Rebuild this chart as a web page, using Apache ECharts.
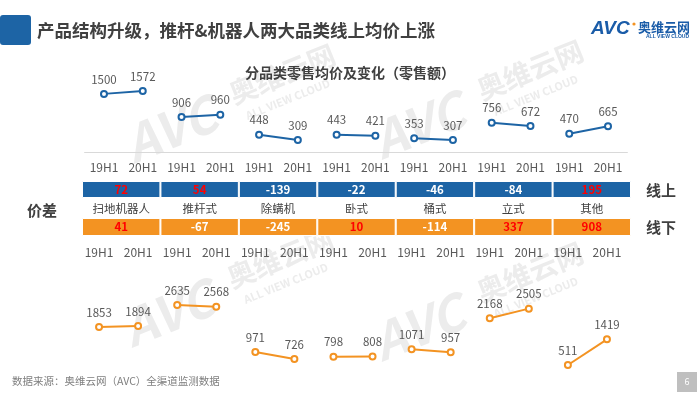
<!DOCTYPE html>
<html>
<head>
<meta charset="utf-8">
<script src="https://cdn.jsdelivr.net/npm/echarts@6/dist/echarts.min.js"></script>
<style>
html,body{margin:0;padding:0;background:#fff;}
#main{width:700px;height:394px;}
</style>
</head>
<body>
<div id="main"></div>
<script>
// ---- data ----
var categories = ['扫地机器人','推杆式','除螨机','卧式','桶式','立式','其他'];
var periods = ['19H1','20H1'];
var online19 = [1500, 906, 448, 443, 353, 756, 470];
var online20 = [1572, 960, 309, 421, 307, 672, 665];
var offline19 = [1853, 2635, 971, 798, 1071, 2168, 511];
var offline20 = [1894, 2568, 726, 808, 957, 2505, 1419];
var onlineDiff = [72, 54, -139, -22, -46, -84, 195];
var offlineDiff = [41, -67, -245, 10, -114, 337, 908];

// ---- styles ----
var FONT = "'Microsoft YaHei','Noto Sans CJK SC',sans-serif";
var BLUE = '#1d64a5';
var ORANGE = '#f39322';
var GRAY_TXT = '#595959';
var DARK_TXT = '#404040';

var periodLabels = [];
categories.forEach(function(){ periods.forEach(function(p){ periodLabels.push(p); }); });

function pairSeries(a, b, color, xi, yi) {
  return categories.map(function(c, i) {
    var d = periodLabels.map(function(){ return null; });
    d[2*i] = a[i];
    d[2*i+1] = b[i];
    return {
      type: 'line', xAxisIndex: xi, yAxisIndex: yi, data: d, connectNulls: false,
      symbol: 'emptyCircle', symbolSize: 6, silent: true, animation: false,
      lineStyle: {color: color, width: 2},
      itemStyle: {color: color, borderColor: color, borderWidth: 1.6},
      label: {show: true, position: 'top', distance: 5, color: GRAY_TXT, fontSize: 11.5, fontFamily: FONT}
    };
  });
}

function cellSeries(diffs, color, xi, yi) {
  return {
    type: 'bar', xAxisIndex: xi, yAxisIndex: yi, barWidth: '100%', silent: true, animation: false,
    data: diffs.map(function(v){ return {value: 1, diff: v}; }),
    itemStyle: {color: color, borderColor: '#ffffff', borderWidth: 1},
    label: {
      show: true, position: 'inside', fontFamily: FONT, fontSize: 11.5, fontWeight: 'bold',
      formatter: function(p){ var v = p.data.diff; return v > 0 ? '{pos|' + v + '}' : '{neg|' + v + '}'; },
      rich: {
        pos: {color: '#ff0000', fontSize: 11.5, fontWeight: 'bold', fontFamily: FONT},
        neg: {color: '#ffffff', fontSize: 11.5, fontWeight: 'bold', fontFamily: FONT}
      }
    }
  };
}

function watermark(x, y) {
  var c = '#ececec';
  return {
    type: 'group', x: x, y: y, rotation: 22 * Math.PI / 180, silent: true, z: 0,
    children: [
      {type: 'text', x: -110, y: -28, style: {text: 'AVC', fill: c, font: 'italic bold 50px ' + FONT}},
      {type: 'text', x: 5, y: -26, style: {text: '奥维云网', fill: c, font: 'bold 28px ' + FONT}},
      {type: 'text', x: 12, y: 8, style: {text: 'ALL VIEW CLOUD', fill: c, font: 'bold 11px ' + FONT}}
    ]
  };
}

var chart = echarts.init(document.getElementById('main'), null, {renderer: 'canvas'});

var series = []
  .concat(pairSeries(online19, online20, BLUE, 0, 0))
  .concat(pairSeries(offline19, offline20, ORANGE, 1, 1))
  .concat([cellSeries(onlineDiff, BLUE, 2, 2), cellSeries(offlineDiff, ORANGE, 3, 3)]);

var option = {
  backgroundColor: '#ffffff',
  animation: false,
  grid: [
    {left: 84.6, right: 72.6, top: 74.5, bottom: 242},
    {left: 79.5, right: 73.5, top: 266.4, bottom: 14.6},
    {left: 82, right: 69, top: 181, height: 17},
    {left: 82, right: 69, top: 218, height: 18}
  ],
  xAxis: [
    {gridIndex: 0, type: 'category', data: periodLabels, boundaryGap: true,
     axisLine: {show: true, lineStyle: {color: '#d9d9d9', width: 1}}, axisTick: {show: false},
     axisLabel: {color: GRAY_TXT, fontSize: 12, fontFamily: FONT, margin: 9, interval: 0}},
    {gridIndex: 1, type: 'category', data: periodLabels, position: 'top', boundaryGap: true,
     axisLine: {show: false}, axisTick: {show: false},
     axisLabel: {color: GRAY_TXT, fontSize: 12, fontFamily: FONT, margin: 8, interval: 0}},
    {gridIndex: 2, type: 'category', data: categories,
     axisLine: {show: false}, axisTick: {show: false},
     axisLabel: {color: DARK_TXT, fontSize: 11.5, fontFamily: FONT, margin: 5, interval: 0}},
    {gridIndex: 3, type: 'category', data: categories,
     axisLine: {show: false}, axisTick: {show: false}, axisLabel: {show: false}}
  ],
  yAxis: [
    {gridIndex: 0, type: 'value', min: 0, max: 2000, show: false},
    {gridIndex: 1, type: 'value', min: 0, max: 4000, show: false},
    {gridIndex: 2, type: 'value', min: 0, max: 1, show: false},
    {gridIndex: 3, type: 'value', min: 0, max: 1, show: false}
  ],
  series: series,
  graphic: [
    watermark(230, 108),
    watermark(478, 104),
    watermark(228, 292),
    watermark(478, 306),
    {type: 'rect', shape: {x: 0, y: 15, width: 31, height: 30, r: 3}, style: {fill: '#1d64a5'}, silent: true},
    {type: 'text', x: 37, y: 30, style: {text: '产品结构升级，推杆&机器人两大品类线上均价上涨', fill: DARK_TXT,
      font: 'bold 17.5px ' + FONT, textVerticalAlign: 'middle'}},
    {type: 'text', x: 591, y: 29, style: {text: 'AVC', fill: '#1a5ca8', font: 'italic bold 19px Arial, ' + FONT, textVerticalAlign: 'middle'}},
    {type: 'circle', shape: {cx: 634, cy: 24, r: 1.6}, style: {fill: '#f39322'}},
    {type: 'text', x: 638, y: 27, style: {text: '奥维云网', fill: '#1a5ca8', font: 'bold 13px ' + FONT, textVerticalAlign: 'middle'}},
    {type: 'text', x: 646, y: 37, style: {text: 'ALL VIEW CLOUD', fill: '#1a5ca8', font: 'bold 5px Arial', textVerticalAlign: 'middle'}},
    {type: 'text', x: 350, y: 73, style: {text: '分品类零售均价及变化（零售额）', fill: DARK_TXT, font: 'bold 14px ' + FONT,
      textAlign: 'center', textVerticalAlign: 'middle'}},
    {type: 'text', x: 42, y: 210, style: {text: '价差', fill: DARK_TXT, font: 'bold 15px ' + FONT, textAlign: 'center', textVerticalAlign: 'middle'}},
    {type: 'text', x: 661, y: 190, style: {text: '线上', fill: DARK_TXT, font: 'bold 15px ' + FONT, textAlign: 'center', textVerticalAlign: 'middle'}},
    {type: 'text', x: 661, y: 227, style: {text: '线下', fill: DARK_TXT, font: 'bold 15px ' + FONT, textAlign: 'center', textVerticalAlign: 'middle'}},
    {type: 'text', x: 12, y: 381, style: {text: '数据来源：奥维云网（AVC）全渠道监测数据', fill: '#7f7f7f', font: '10.5px ' + FONT, textVerticalAlign: 'middle'}},
    {type: 'rect', shape: {x: 677, y: 372, width: 20, height: 20}, style: {fill: '#bfbfbf'}},
    {type: 'text', x: 687, y: 382, style: {text: '6', fill: '#ffffff', font: '9px ' + FONT, textAlign: 'center', textVerticalAlign: 'middle'}}
  ]
};
chart.setOption(option);
</script>
</body>
</html>
